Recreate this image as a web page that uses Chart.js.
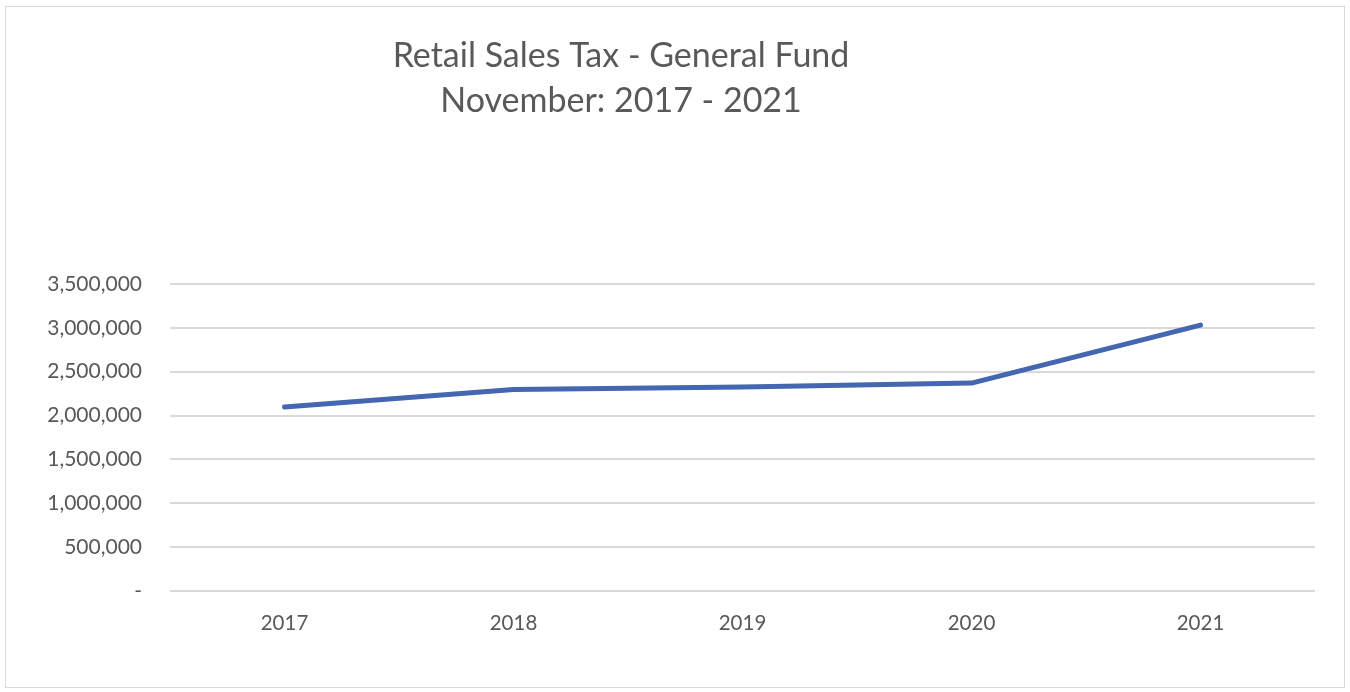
<!DOCTYPE html>
<html>
<head>
<meta charset="utf-8">
<script src="https://cdn.jsdelivr.net/npm/chart.js@4/dist/chart.umd.min.js"></script>
<style>
  html, body { margin: 0; padding: 0; background: #fff; }
  #frame { position: absolute; left: 5px; top: 6px; width: 1338px; height: 680px; border: 1px solid #d9d9d9; }
  #wrap { position: absolute; left: 0; top: 0; width: 1350px; height: 692px; }
</style>
</head>
<body>
<div id="frame"></div>
<div id="wrap"><canvas id="c"></canvas></div>
<script>
const categories = ["2017", "2018", "2019", "2020", "2021"];
const salesTax = [2098000, 2296000, 2326000, 2370000, 3032000];
const titleLines = ["Retail Sales Tax - General Fund", "November: 2017 - 2021"];
const yMax = 3500000;
const yStep = 500000;

const titlePlugin = {
  id: 'customTitle',
  afterDraw(chart) {
    const ctx = chart.ctx;
    ctx.save();
    ctx.fillStyle = '#595959';
    ctx.font = '34px Lato, "Open Sans", sans-serif';
    ctx.textAlign = 'center';
    ctx.textBaseline = 'middle';
    ctx.fillText(titleLines[0], 621, 56);
    ctx.fillText(titleLines[1], 621, 101);
    ctx.restore();
  }
};

new Chart(document.getElementById('c'), {
  type: 'line',
  data: {
    labels: categories,
    datasets: [{
      data: salesTax,
      borderColor: '#4566B0',
      borderWidth: 5,
      borderCapStyle: 'round',
      borderJoinStyle: 'round',
      pointRadius: 0,
      tension: 0,
      fill: false
    }]
  },
  options: {
    responsive: true,
    maintainAspectRatio: false,
    animation: false,
    layout: { padding: { top: 284, right: 35, bottom: 0, left: 0 } },
    plugins: { legend: { display: false }, tooltip: { enabled: false } },
    scales: {
      x: {
        offset: true,
        grid: { display: false, drawTicks: false },
        border: { display: false },
        ticks: { color: '#595959', font: { family: 'Lato, "Open Sans", sans-serif', size: 20.5 }, padding: 20 },
        afterFit(s) { s.height = 101; }
      },
      y: {
        min: 0, max: yMax,
        grid: { color: '#d9d9d9', lineWidth: 2, drawTicks: false },
        border: { display: false },
        ticks: {
          stepSize: yStep,
          color: '#595959',
          font: { family: 'Lato, "Open Sans", sans-serif', size: 21 },
          padding: 28,
          callback: v => v === 0 ? '-' : v.toLocaleString('en-US')
        },
        afterFit(s) { s.width = 170; }
      }
    }
  },
  plugins: [titlePlugin]
});
</script>
</body>
</html>
